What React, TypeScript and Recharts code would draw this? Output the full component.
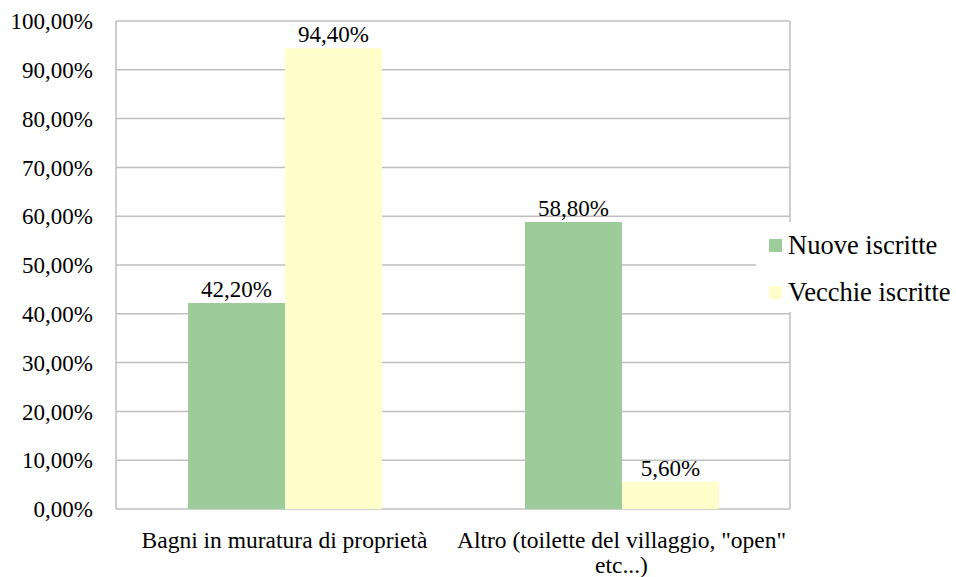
import React from "react";
import {
  BarChart,
  Bar,
  XAxis,
  YAxis,
  CartesianGrid,
  Legend,
  LabelList,
} from "recharts";

const categories = [
  "Bagni in muratura di proprietà",
  'Altro (toilette del villaggio, "open"\netc...)',
];
const nuoveIscritte = [42.2, 58.8];
const vecchieIscritte = [94.4, 5.6];
const yTicks = [0, 10, 20, 30, 40, 50, 60, 70, 80, 90, 100];

const data = categories.map((name, i) => ({
  name,
  nuove: nuoveIscritte[i],
  vecchie: vecchieIscritte[i],
}));

const FONT = "'Liberation Serif', 'Times New Roman', 'DejaVu Serif', serif";
const GREEN = "#9bcc9a";
const YELLOW = "#ffffcc";
const GRID = "#bfbfbf";

const fmt = (v: any) => Number(v).toFixed(2).replace(".", ",") + "%";

const CategoryTick = (props: any) => {
  const { x, y, payload } = props;
  const lines = String(payload.value).split("\n");
  return (
    <text
      x={x}
      y={y}
      textAnchor="middle"
      fill="#000"
      fontSize={23.5}
      fontFamily={FONT}
    >
      {lines.map((line, i) => (
        <tspan key={i} x={x} dy={i === 0 ? 39 : 25}>
          {line}
        </tspan>
      ))}
    </text>
  );
};

const LegendContent = (props: any) => {
  const { payload } = props;
  return (
    <div style={{ background: "#fff", height: 90, paddingLeft: 13 }}>
      {payload.map((entry: any) => (
        <div
          key={entry.value}
          style={{
            display: "flex",
            alignItems: "center",
            height: 47,
            fontFamily: FONT,
            fontSize: 26.5,
            color: "#000",
            whiteSpace: "nowrap",
          }}
        >
          <span
            style={{
              display: "inline-block",
              width: 13,
              height: 13,
              background: entry.color,
              marginRight: 6,
            }}
          />
          {entry.value}
        </div>
      ))}
    </div>
  );
};

export default function App() {
  return (
    <div style={{ position: "absolute", left: 0, top: 0 }}>
      <BarChart
        width={956}
        height={577}
        data={data}
        margin={{ top: 21, right: 166, bottom: 0, left: 0 }}
        barCategoryGap={72}
        barGap={0}
      >
        <CartesianGrid
          stroke={GRID}
          strokeWidth={1.5}
          verticalCoordinatesGenerator={({ offset }: any) => [
            offset.left,
            offset.left + offset.width,
          ]}
        />
        <XAxis
          dataKey="name"
          axisLine={false}
          tickLine={false}
          tickSize={0}
          tickMargin={0}
          interval={0}
          height={68}
          tick={<CategoryTick />}
        />
        <YAxis
          width={116}
          domain={[0, 100]}
          ticks={yTicks}
          tickFormatter={fmt}
          axisLine={false}
          tickLine={false}
          tickSize={0}
          tickMargin={23}
          tick={{ fill: "#000", fontSize: 23, fontFamily: FONT }}
        />
        <Legend
          layout="vertical"
          verticalAlign="middle"
          align="center"
          content={<LegendContent />}
          wrapperStyle={{ left: 756, top: 222, width: 200 }}
        />
        <Bar
          dataKey="nuove"
          name="Nuove iscritte"
          fill={GREEN}
          isAnimationActive={false}
        >
          <LabelList
            dataKey="nuove"
            position="top"
            offset={6}
            formatter={fmt}
            fill="#000"
            fontSize={23}
            fontFamily={FONT}
          />
        </Bar>
        <Bar
          dataKey="vecchie"
          name="Vecchie iscritte"
          fill={YELLOW}
          isAnimationActive={false}
        >
          <LabelList
            dataKey="vecchie"
            position="top"
            offset={6}
            formatter={fmt}
            fill="#000"
            fontSize={23}
            fontFamily={FONT}
          />
        </Bar>
      </BarChart>
    </div>
  );
}
